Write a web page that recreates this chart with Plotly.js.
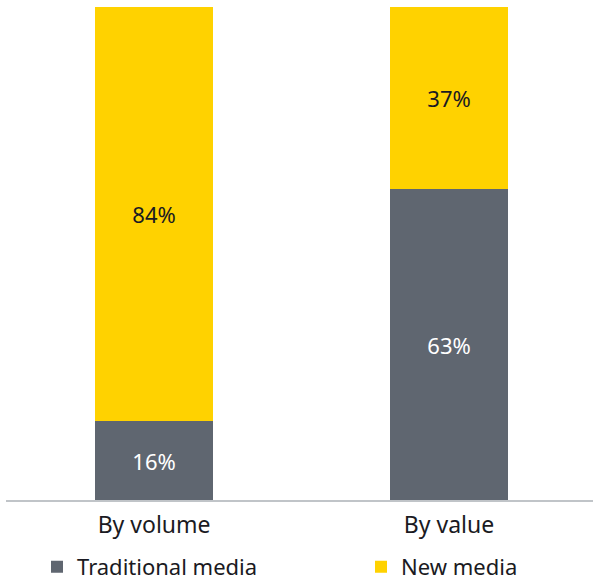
<!DOCTYPE html>
<html><head><meta charset="utf-8">
<script src="https://cdn.plot.ly/plotly-3.0.1.min.js"></script>
<style>html,body{margin:0;padding:0;background:#fff}</style>
</head><body>
<div id="chart" style="width:593px;height:582px"></div>
<script>
const categories = ["By volume", "By value"];
const traditional = [16, 63];
const newMedia = [84, 37];
const seriesNames = ["Traditional media", "New media"];

const font = "Noto Sans, DejaVu Sans, sans-serif";
const data = [
  {type:'bar', name:seriesNames[0], x:categories, y:traditional,
   marker:{color:'#5F6670'}, width:0.4, legend:'legend',
   text: traditional.map(v=>v+'%'), textposition:'inside', insidetextanchor:'middle',
   textfont:{color:'#ffffff', size:22, family:font}, hoverinfo:'none'},
  {type:'bar', name:seriesNames[1], x:categories, y:newMedia,
   marker:{color:'#FFD200'}, width:0.4, legend:'legend2',
   text: newMedia.map(v=>v+'%'), textposition:'inside', insidetextanchor:'middle',
   textfont:{color:'#1a1a22', size:22, family:font}, hoverinfo:'none'}
];
const legendBase = {orientation:'h', yref:'container', y:0.026, yanchor:'middle',
  xref:'container', xanchor:'left', font:{size:22, color:'#1a1a22', family:font},
  itemwidth:30, bgcolor:'rgba(0,0,0,0)', borderwidth:0};
const layout = {
  width:593, height:582,
  margin:{l:6, r:0, t:7, b:82},
  barmode:'stack',
  paper_bgcolor:'#fff', plot_bgcolor:'#fff',
  font:{family:font, size:22, color:'#1a1a22'},
  xaxis:{type:'category', range:[-0.502, 1.488], showline:true, linecolor:'#C0C4C8', linewidth:1.5,
         ticks:'', ticklabelstandoff:4, tickfont:{size:23, color:'#1a1a22'}, showgrid:false, zeroline:false},
  yaxis:{range:[0,100], visible:false, showgrid:false, zeroline:false},
  showlegend:true,
  legend:Object.assign({}, legendBase, {x:37/593}),
  legend2:Object.assign({}, legendBase, {x:361/593})
};
Plotly.newPlot('chart', data, layout, {staticPlot:true});
</script>
</body></html>
